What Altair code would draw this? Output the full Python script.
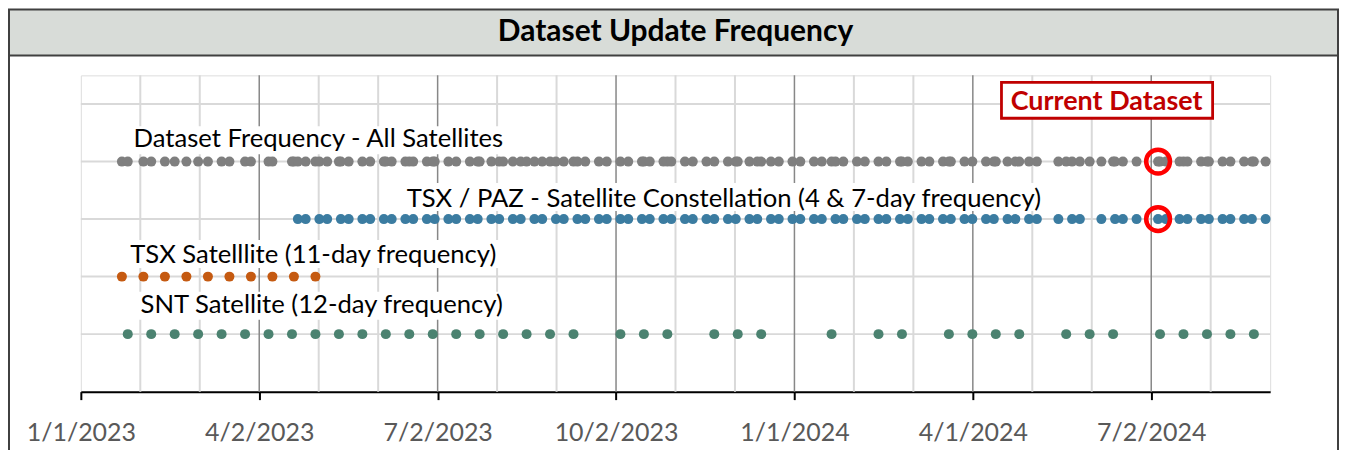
import altair as alt
import pandas as pd

# ---------------- data (day offsets counted from 1 Jan 2023 = day 0) ----------------
TSX_DAYS = [21, 32, 43, 54, 65, 76, 87, 98, 109, 120]
SNT_DAYS = [24, 36, 48, 60, 72, 84, 96, 108, 120, 132, 144, 156, 168, 180, 192,
            204, 216, 228, 240, 252, 276, 288, 300, 324, 336, 348, 384, 408, 420,
            444, 456, 468, 480, 504, 516, 528, 552, 564, 576, 588, 600]
TSX_PAZ_DAYS = [111, 115, 122, 126, 133, 137, 144, 148, 155, 159, 166, 170, 177, 181,
                188, 192, 199, 203, 210, 214, 221, 225, 232, 236, 243, 247, 254, 258,
                265, 269, 276, 280, 287, 291, 298, 302, 309, 313, 320, 324, 331, 335,
                342, 346, 353, 357, 364, 368, 375, 379, 386, 390, 397, 401, 408, 412,
                419, 423, 430, 434, 441, 445, 452, 456, 463, 467, 474, 478, 485, 489,
                500, 507, 511, 522, 529, 533, 540, 551, 555, 562, 566, 573, 577, 584,
                588, 595, 599, 606]
# the "All Satellites" row is the union of the three acquisition schedules
ALL_DAYS = sorted(set(TSX_DAYS) | set(SNT_DAYS) | set(TSX_PAZ_DAYS))
CURRENT_DAY = 551

SERIES = ["All", "TSX/PAZ", "TSX", "SNT"]
SERIES_ROW = [4, 3, 2, 1]
SERIES_COLORS = ["#7f7f7f", "#3b7ca1", "#c55a11", "#4b8270"]
SERIES_DAYS = [ALL_DAYS, TSX_PAZ_DAYS, TSX_DAYS, SNT_DAYS]
LABEL_TEXT = ["Dataset Frequency - All Satellites",
              "TSX / PAZ - Satellite Constellation (4 & 7-day frequency)",
              "TSX Satelllite (11-day frequency)",
              "SNT Satellite (12-day frequency)"]

TICK_DAYS = [0, 91.25, 182.5, 273.75, 365, 456.25, 547.5]
TICK_LABELS = ["1/1/2023", "4/2/2023", "7/2/2023", "10/2/2023",
               "1/1/2024", "4/1/2024", "7/2/2024"]
X_MAX = 608.33
Y_MAX = 5.5

# ---------------- layout (annotation placement, data units) ----------------
LABEL_X = [121.5, 328.9, 118.9, 123.2]
LABEL_BASE = [4.246, 3.215, 2.233, 1.371]
BOX_X1 = [24.0, 165.3, 22.5, 27.6]
BOX_X2 = [218.9, 492.5, 215.4, 218.9]
BOX_Y1 = [4.129, 3.140, 2.151, 1.249]
BOX_Y2 = [4.615, 3.626, 2.637, 1.735]
CUR_BOX = {"x1": [470.9], "x2": [578.9], "y1": [4.754], "y2": [5.379],
           "tx": [524.7], "ty": [4.893]}

FONT = "Lato"
W, H = 1192, 317

dots = pd.DataFrame(
    [{"series": s, "day": d, "row": r}
     for s, r, days in zip(SERIES, SERIES_ROW, SERIES_DAYS) for d in days]
)
labels = pd.DataFrame({"text": LABEL_TEXT, "x": LABEL_X, "y": LABEL_BASE,
                       "x1": BOX_X1, "x2": BOX_X2, "y1": BOX_Y1, "y2": BOX_Y2})
minor = pd.DataFrame({"g": [k * 365 / 12 for k in range(1, 20) if k % 3]})
major = pd.DataFrame({"g": TICK_DAYS[1:]})
hgrid = pd.DataFrame({"h": [1, 2, 3, 4, 5]})
current = pd.DataFrame({"day": [CURRENT_DAY, CURRENT_DAY], "row": [4, 3]})
curbox = pd.DataFrame(CUR_BOX)
one = pd.DataFrame({"a": [0]})

xs = alt.Scale(domain=[0, X_MAX], nice=False, zero=False)
ys = alt.Scale(domain=[0, Y_MAX], nice=False, zero=False)

label_expr = "[{}][indexof([{}], datum.value)]".format(
    ",".join("'%s'" % t for t in TICK_LABELS), ",".join(str(v) for v in TICK_DAYS))

X_AXIS = alt.Axis(values=TICK_DAYS, labelExpr=label_expr, title=None, grid=False,
                  domainColor="#000000", domainWidth=2, tickColor="#000000",
                  tickWidth=2, tickSize=8, labelPadding=21, labelFont=FONT,
                  labelFontSize=25, labelColor="#595959", labelFlush=False,
                  labelOverlap=False)


def X(field):
    return alt.X(field, scale=xs, axis=X_AXIS)


def Y(field):
    return alt.Y(field, scale=ys, axis=None)


minor_layer = alt.Chart(minor).mark_rule(color="#d9d9d9", strokeWidth=2).encode(x=X("g:Q"))
hgrid_layer = alt.Chart(hgrid).mark_rule(color="#d9d9d9", strokeWidth=2).encode(y=Y("h:Q"))
major_layer = alt.Chart(major).mark_rule(color="#878787", strokeWidth=1.5).encode(x=X("g:Q"))

box_layer = alt.Chart(labels).mark_rect(fill="white").encode(
    x=X("x1:Q"), x2="x2:Q", y=Y("y1:Q"), y2="y2:Q")
text_layer = alt.Chart(labels).mark_text(
    font=FONT, fontSize=25.7, color="#000000", align="center", baseline="alphabetic"
).encode(x=X("x:Q"), y=Y("y:Q"), text="text:N")

dot_layer = alt.Chart(dots).mark_circle(size=100, opacity=1).encode(
    x=X("day:Q"), y=Y("row:Q"),
    color=alt.Color("series:N", scale=alt.Scale(domain=SERIES, range=SERIES_COLORS),
                    legend=None))

cur_box = alt.Chart(curbox).mark_rect(fill="white", stroke="#c00000", strokeWidth=2.8).encode(
    x=X("x1:Q"), x2="x2:Q", y=Y("y1:Q"), y2="y2:Q")
cur_text = alt.Chart(curbox).mark_text(
    text="Current Dataset", font=FONT, fontSize=27, fontWeight="bold",
    color="#c00000", align="center", baseline="alphabetic"
).encode(x=X("tx:Q"), y=Y("ty:Q"))
cur_circle = alt.Chart(current).mark_point(
    shape="circle", filled=False, size=570, strokeWidth=4.5, color="#ff0000", opacity=1
).encode(x=X("day:Q"), y=Y("row:Q"))

# chart frame and title band (outside the plot area)
band = alt.Chart(one).mark_rect(fill="#d8dcd8", stroke="#404040", strokeWidth=2).encode(
    x=alt.value(-72), x2=alt.value(1260), y=alt.value(-66), y2=alt.value(-20))
title = alt.Chart(one).mark_text(
    text="Dataset Update Frequency", font=FONT, fontSize=30, fontWeight="bold",
    color="#000000", align="center", baseline="middle"
).encode(x=alt.value(596), y=alt.value(-43))
edges = pd.DataFrame({"ex": [-72, 1260]})
edge_layer = alt.Chart(edges).mark_rule(color="#404040", strokeWidth=2).encode(
    x=alt.X("ex:Q", scale=None, axis=None), y=alt.value(-20), y2=alt.value(380))

chart = alt.layer(
    minor_layer, hgrid_layer, major_layer, box_layer, text_layer, dot_layer,
    cur_box, cur_text, cur_circle, band, title, edge_layer
).properties(
    width=W, height=H,
    autosize=alt.AutoSizeParams(type="none"),
    padding={"left": 73, "top": 67, "right": 70, "bottom": 58},
).configure_view(stroke="#8a8a8a", strokeWidth=2).configure(background="white")

chart.save("out.html", embed_options={"renderer": "svg", "actions": False})
